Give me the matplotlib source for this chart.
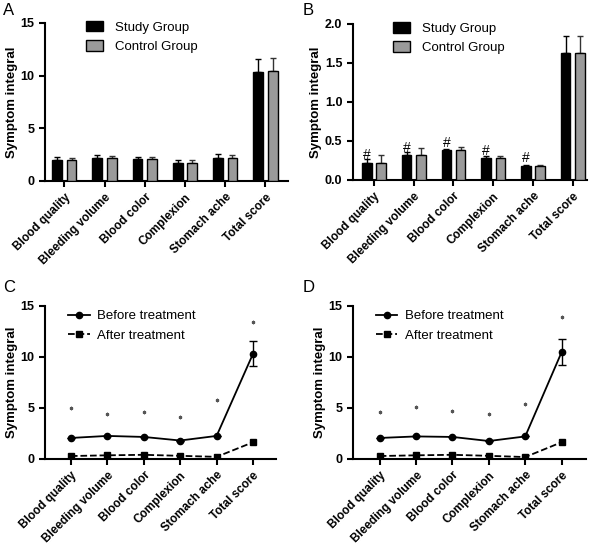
import numpy as np
import matplotlib
matplotlib.use("Agg")
import matplotlib.pyplot as plt
from matplotlib.lines import Line2D

plt.rcParams['font.family'] = ['Liberation Sans', 'DejaVu Sans']

categories = ["Blood quality", "Bleeding volume", "Blood color",
              "Complexion", "Stomach ache", "Total score"]

# panel A: before treatment, groups
a_study = [1.95, 2.15, 2.05, 1.70, 2.15, 10.30]
a_study_err = [0.30, 0.30, 0.25, 0.30, 0.40, 1.25]
a_control = [1.95, 2.15, 2.05, 1.70, 2.20, 10.45]
a_control_err = [0.25, 0.25, 0.25, 0.25, 0.30, 1.25]

# panel B: after treatment, groups
b_study = [0.22, 0.32, 0.38, 0.28, 0.18, 1.63]
b_study_err = [0.05, 0.04, 0.02, 0.02, 0.01, 0.22]
b_control = [0.22, 0.32, 0.38, 0.28, 0.18, 1.63]
b_control_err = [0.10, 0.09, 0.04, 0.02, 0.01, 0.22]
b_marks = ["#", "#", "#", "#", "#", ""]

# panel C: study group before/after
c_before = [2.05, 2.25, 2.15, 1.80, 2.25, 10.30]
c_before_err = [0.0, 0.0, 0.0, 0.0, 0.0, 1.25]
c_after = [0.28, 0.35, 0.40, 0.30, 0.20, 1.63]
c_star = [5.0, 4.4, 4.55, 4.15, 5.75, 13.45]

# panel D: control group before/after
d_before = [2.05, 2.20, 2.15, 1.75, 2.20, 10.45]
d_before_err = [0.0, 0.0, 0.0, 0.0, 0.0, 1.25]
d_after = [0.28, 0.35, 0.40, 0.30, 0.18, 1.63]
d_star = [4.6, 5.1, 4.65, 4.35, 5.4, 13.9]

x = np.arange(len(categories))


def style_axis(ax, xlim):
    for s in ["top", "right"]:
        ax.spines[s].set_visible(False)
    for s in ["left", "bottom"]:
        ax.spines[s].set_linewidth(1.5)
    ax.tick_params(width=1.5, length=4)
    ax.tick_params(axis="x", labelsize=8.5)
    ax.tick_params(axis="y", labelsize=9)
    ax.set_xlim(*xlim)
    ax.set_xticks(x)
    ax.set_xticklabels(categories, rotation=45, ha="right",
                       rotation_mode="anchor", fontweight="bold")
    for lab in ax.get_yticklabels():
        lab.set_fontweight("bold")
    ax.set_ylabel("Symptom integral", fontsize=9.5, fontweight="bold", labelpad=2)


def bar_panel(ax, study, study_err, control, control_err, xlim):
    off = 0.18
    w = 0.24
    ax.bar(x - off, study, w, color="black", edgecolor="black", linewidth=1,
           label="Study Group", zorder=3)
    ax.bar(x + off, control, w, color="#9a9a9a", edgecolor="black", linewidth=1,
           label="Control Group", zorder=3)
    zeros = np.zeros(len(x))
    ax.errorbar(x - off, study, yerr=[zeros, study_err], fmt="none",
                ecolor="black", elinewidth=1, capsize=2.5, capthick=1, zorder=2)
    ax.errorbar(x + off, control, yerr=[zeros, control_err], fmt="none",
                ecolor="#333333", elinewidth=1, capsize=2.5, capthick=1, zorder=2)
    ax.legend(loc="upper left", bbox_to_anchor=(0.12, 1.09), frameon=False,
              fontsize=9.5, handlelength=1.3, handleheight=0.9,
              labelspacing=0.5, handletextpad=0.9)


def line_panel(ax, before, before_err, after, star, xlim):
    ax.errorbar(x, before, yerr=before_err, fmt="-o", color="black",
                ms=4.5, lw=1.3, elinewidth=1, capsize=3, zorder=3)
    ax.plot(x, after, "--s", color="black", ms=4.5, lw=1.3, zorder=3)
    ax.plot(x, star, ls="none", marker=(6, 2, 0), ms=2.5, color="#555555",
            mew=0.8)
    ax.set_ylim(0, 15)
    ax.set_yticks([0, 5, 10, 15])
    handles = [Line2D([], [], color="black", ls="-", marker="o", ms=4.5, lw=1.3),
               Line2D([], [], color="black", ls="--", marker="s", ms=4.5, lw=1.3)]
    ax.legend(handles, ["Before treatment", "After treatment"],
              loc="upper left", bbox_to_anchor=(0.05, 1.05), frameon=False,
              fontsize=9.5, handlelength=1.6, labelspacing=0.55,
              handletextpad=0.6)
    style_axis(ax, xlim)


fig = plt.figure(figsize=(6, 5.45), dpi=100)

axA = fig.add_axes([0.075, 0.668, 0.405, 0.290])
bar_panel(axA, a_study, a_study_err, a_control, a_control_err, (-0.48, 5.56))
axA.set_ylim(0, 15)
axA.set_yticks([0, 5, 10, 15])
style_axis(axA, (-0.48, 5.56))

axB = fig.add_axes([0.588, 0.670, 0.390, 0.286])
bar_panel(axB, b_study, b_study_err, b_control, b_control_err, (-0.53, 5.35))
axB.set_ylim(0, 2.0)
axB.set_yticks([0, 0.5, 1.0, 1.5, 2.0])
axB.set_yticklabels(["0.0", "0.5", "1.0", "1.5", "2.0"])
style_axis(axB, (-0.53, 5.35))
for i, m in enumerate(b_marks):
    if m:
        axB.text(x[i] - 0.18, b_study[i] + 0.005, m, ha="center", va="bottom",
                 fontsize=10, zorder=4)

axC = fig.add_axes([0.075, 0.158, 0.385, 0.281])
line_panel(axC, c_before, c_before_err, c_after, c_star, (-0.71, 5.63))

axD = fig.add_axes([0.588, 0.158, 0.388, 0.281])
line_panel(axD, d_before, d_before_err, d_after, d_star, (-0.74, 5.66))

for lbl, (px, py) in zip("ABCD", [(3, 3), (303, 3), (3, 280), (303, 280)]):
    fig.text(px / 600, 1 - py / 545, lbl, fontsize=12, ha="left", va="top")

fig.savefig("out.png", dpi=100)
